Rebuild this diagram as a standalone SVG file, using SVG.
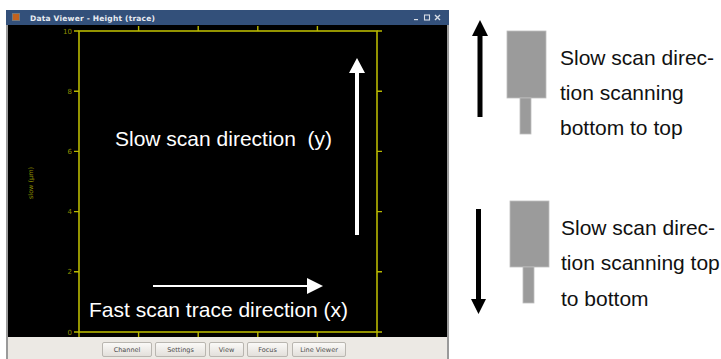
<svg xmlns="http://www.w3.org/2000/svg" width="721" height="359" viewBox="0 0 721 359">
  <defs>
    <linearGradient id="btnGrad" x1="0" y1="0" x2="0" y2="1">
      <stop offset="0" stop-color="#fbfaf8"/>
      <stop offset="1" stop-color="#e2dfda"/>
    </linearGradient>
  </defs>
  <style>
    .axis { stroke: #b8b800; stroke-width: 1.6; fill: none; }
    .tick { stroke: #b8b800; stroke-width: 1.4; }
    .ticklbl { font-family: "DejaVu Sans", sans-serif; font-size: 7px; fill: #8f8f00; text-anchor: end; }
    .big { font-family: "Liberation Sans", Arial, sans-serif; font-size: 21px; }
    .white { fill: #ffffff; }
    .dark { fill: #111111; }
    .btn { fill: url(#btnGrad); stroke: #b9b6b0; stroke-width: 1; }
    .btnlbl { font-family: "DejaVu Sans", sans-serif; font-size: 6.5px; fill: #4a4a4a; text-anchor: middle; }
    .probe { fill: #9b9b9b; stroke: #bdbdbd; stroke-width: 0.8; }
  </style>

  <rect width="721" height="359" fill="#ffffff"/>

  <!-- application window -->
  <g id="window">
    <rect x="6" y="10" width="443" height="349" fill="#9a9a9a"/>
    <rect x="6" y="10" width="443" height="15" fill="#33507a"/>
    <rect x="12" y="13" width="8" height="8" fill="#7a7a7a"/>
    <rect x="13" y="14" width="6" height="6" fill="#c4621e"/>
    <text x="30" y="21" font-family="DejaVu Sans, sans-serif" font-weight="bold" font-size="7.5" fill="#e8ecf2" textLength="125">Data Viewer - Height (trace)</text>
    <rect x="414" y="19" width="4" height="1.2" fill="#d8dde6"/>
    <rect x="424.5" y="15" width="5" height="5" fill="none" stroke="#d8dde6" stroke-width="1.1"/>
    <path d="M435 15 L440 20 M440 15 L435 20" stroke="#d8dde6" stroke-width="1.4"/>
    <rect x="8" y="25" width="439" height="312" fill="#000000"/>
    <rect x="8" y="337" width="439" height="22" fill="#ece9e4"/>
  </g>

  <!-- plot frame with axes and ticks -->
  <g id="plot">
    <rect class="axis" x="79" y="31" width="298" height="301"/>
    <path class="tick" d="M74 31H79M74 91.2H79M74 151.4H79M74 211.6H79M74 271.8H79M74 332H79"/>
    <path class="tick" d="M377 31H382M377 91.2H382M377 151.4H382M377 211.6H382M377 271.8H382M377 332H382"/>
    <path class="tick" d="M138.6 26V31M198.2 26V31M257.8 26V31M317.4 26V31"/>
    <path class="tick" d="M79 332V337M138.6 332V337M198.2 332V337M257.8 332V337M317.4 332V337M377 332V337"/>
    <text class="ticklbl" x="72" y="33.5">10</text>
    <text class="ticklbl" x="72" y="93.7">8</text>
    <text class="ticklbl" x="72" y="153.9">6</text>
    <text class="ticklbl" x="72" y="214.1">4</text>
    <text class="ticklbl" x="72" y="274.3">2</text>
    <text class="ticklbl" x="72" y="334.5">0</text>
    <text x="33" y="183" transform="rotate(-90 33 183)" font-family="DejaVu Sans, sans-serif" font-size="6.5" fill="#8f8f00" text-anchor="middle">slow (µm)</text>
  </g>

  <!-- toolbar buttons -->
  <g id="toolbar">
    <rect class="btn" x="102.5" y="342.5" width="49" height="14" rx="1.5" stroke="#8a8782"/>
    <text class="btnlbl" x="127" y="352">Channel</text>
    <rect class="btn" x="155.5" y="342.5" width="50" height="14" rx="1.5"/>
    <text class="btnlbl" x="180.5" y="352">Settings</text>
    <rect class="btn" x="209.5" y="342.5" width="34" height="14" rx="1.5"/>
    <text class="btnlbl" x="226.5" y="352">View</text>
    <rect class="btn" x="247.5" y="342.5" width="40" height="14" rx="1.5"/>
    <text class="btnlbl" x="267.5" y="352">Focus</text>
    <rect class="btn" x="292.5" y="342.5" width="53" height="14" rx="1.5"/>
    <text class="btnlbl" x="319" y="352">Line Viewer</text>
  </g>

  <!-- scan direction arrows -->
  <g id="arrows">
    <path d="M355 235V73H349L357 58L365 73H359V235Z" fill="#ffffff"/>
    <path d="M153 285H307V278L323 286L307 294V287H153Z" fill="#ffffff"/>
    <path d="M477.5 117V36H472L480 20L488 36H482.5V117Z" fill="#000000"/>
    <path d="M476 209V299H471L478.5 314L486 299H481V209Z" fill="#000000"/>
  </g>

  <!-- labels inside the plot -->
  <g id="plot-labels">
    <text class="big white" x="115" y="146" xml:space="preserve">Slow scan direction  (y)</text>
    <text class="big white" x="89" y="317">Fast scan trace direction (x)</text>
  </g>

  <!-- probe moving bottom to top -->
  <g id="probe-up">
    <rect class="probe" x="507" y="31" width="39" height="67"/>
    <rect class="probe" x="520" y="98" width="11" height="36"/>
    <text class="big dark" x="560" y="65">Slow scan direc-</text>
    <text class="big dark" x="560" y="100">tion scanning</text>
    <text class="big dark" x="560" y="135">bottom to top</text>
  </g>

  <!-- probe moving top to bottom -->
  <g id="probe-down">
    <rect class="probe" x="510" y="201" width="39" height="66"/>
    <rect class="probe" x="523" y="267" width="11" height="36"/>
    <text class="big dark" x="561" y="235">Slow scan direc-</text>
    <text class="big dark" x="561" y="270">tion scanning top</text>
    <text class="big dark" x="561" y="306">to bottom</text>
  </g>
</svg>
